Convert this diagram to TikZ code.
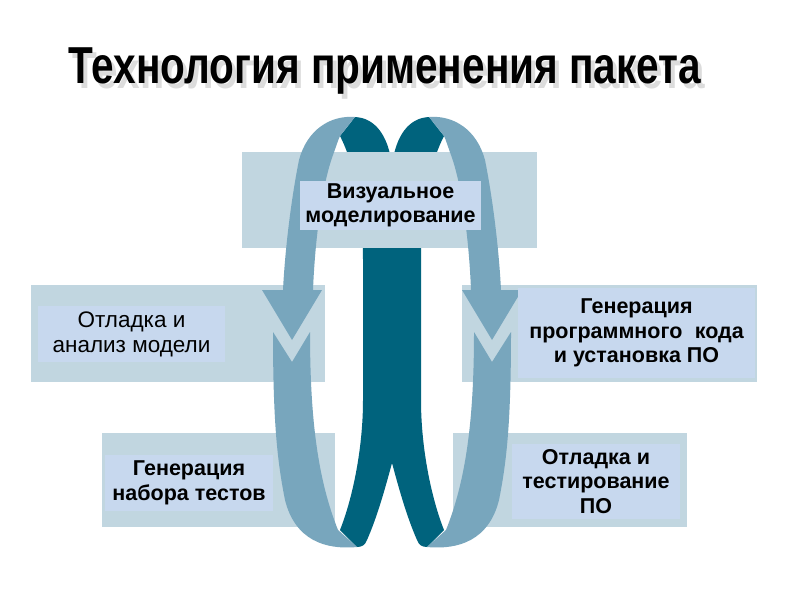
\documentclass[tikz,border=0pt]{standalone}
\usepackage{fontspec}
\setmainfont{Liberation Sans}
\newfontfamily\titlefont[FakeStretch=0.78]{Liberation Sans}
\definecolor{ribbonlight}{HTML}{78A6BD}
\definecolor{ribbondark}{HTML}{00637D}
\definecolor{panel}{HTML}{C1D6E0}
\definecolor{labelbg}{HTML}{C7D8EE}
\newcommand{\frontribbon}{%
	\fill[color=ribbonlight] (355,117) .. controls (330,115) and (307,130) .. (299,160) .. controls (291,200) and (285,250) .. (283,290) -- (262,290) -- (292,340) -- (322,290) -- (313,290) .. controls (315,240) and (322,185) .. (333,155) .. controls (336,147) and (338,140) .. (340,136) -- cycle;
	\fill[color=ribbonlight] (273,332) -- (292,362) -- (310,332) .. controls (310,420) and (318,480) .. (338,530) -- (357,547) .. controls (325,550) and (295,540) .. (285,500) .. controls (277,460) and (273,420) .. (273,332) -- cycle;
}
\begin{document}
\begin{tikzpicture}[x=1pt,y=-1pt,
		tag/.style={fill=labelbg,align=center,inner sep=0pt,font=\bfseries\fontsize{21.5}{24.5}\selectfont},
		title text/.style={anchor=base,font=\titlefont\bfseries\fontsize{52}{60}\selectfont}]
	\useasboundingbox[fill=white] (0,0) rectangle (800,600);
	\fill[color=ribbondark] (340,136) .. controls (355,165) and (363,210) .. (363,260) -- (363,400) .. controls (363,450) and (352,500) .. (340,530) -- (357,547) .. controls (362,547) and (365,545) .. (367,540) .. controls (378,515) and (386,485) .. (392,463) .. controls (398,485) and (406,515) .. (417,540) .. controls (419,545) and (422,547) .. (427,547) -- (444,530) .. controls (432,500) and (421,450) .. (421,400) -- (421,260) .. controls (421,210) and (429,165) .. (444,136) -- (429,117) .. controls (409,118) and (396,135) .. (392,165) .. controls (388,135) and (375,118) .. (355,117) -- cycle;
	\fill[color=panel] (242,152) rectangle (537,248);
	\fill[color=panel] (31,285) rectangle (325,382);
	\fill[color=panel] (462,285) rectangle (757,382);
	\fill[color=panel] (102,433) rectangle (335,527);
	\fill[color=panel] (453,433) rectangle (687,527);
	\frontribbon
	\begin{scope}[xshift=784pt,xscale=-1]
		\frontribbon
	\end{scope}
	\node[tag,minimum width=181pt,minimum height=49pt] (visual) at (390.5,205.5) {Визуальное\\моделирование};
	\node[tag,font=\fontsize{22.5}{25}\selectfont,minimum width=187pt,minimum height=56pt] (debugmodel) at (131.5,334) {Отладка и\\анализ модели};
	\node[tag,minimum width=237pt,minimum height=90pt] (codegen) at (636.5,333) {Генерация\\программного\hspace{0.3em} кода\\и установка ПО};
	\node[tag,minimum width=168pt,minimum height=56pt] (testgen) at (189,483) {Генерация\\набора тестов};
	\node[tag,minimum width=168pt,minimum height=75pt] (debugsoft) at (596,481.5) {Отладка и\\тестирование\\ПО};
	\node[title text,text=black!30,opacity=0.45] (titleshade) at (389,88) {Технология применения пакета};
	\node[title text] (title) at (385,83) {Технология применения пакета};
\end{tikzpicture}
\end{document}
